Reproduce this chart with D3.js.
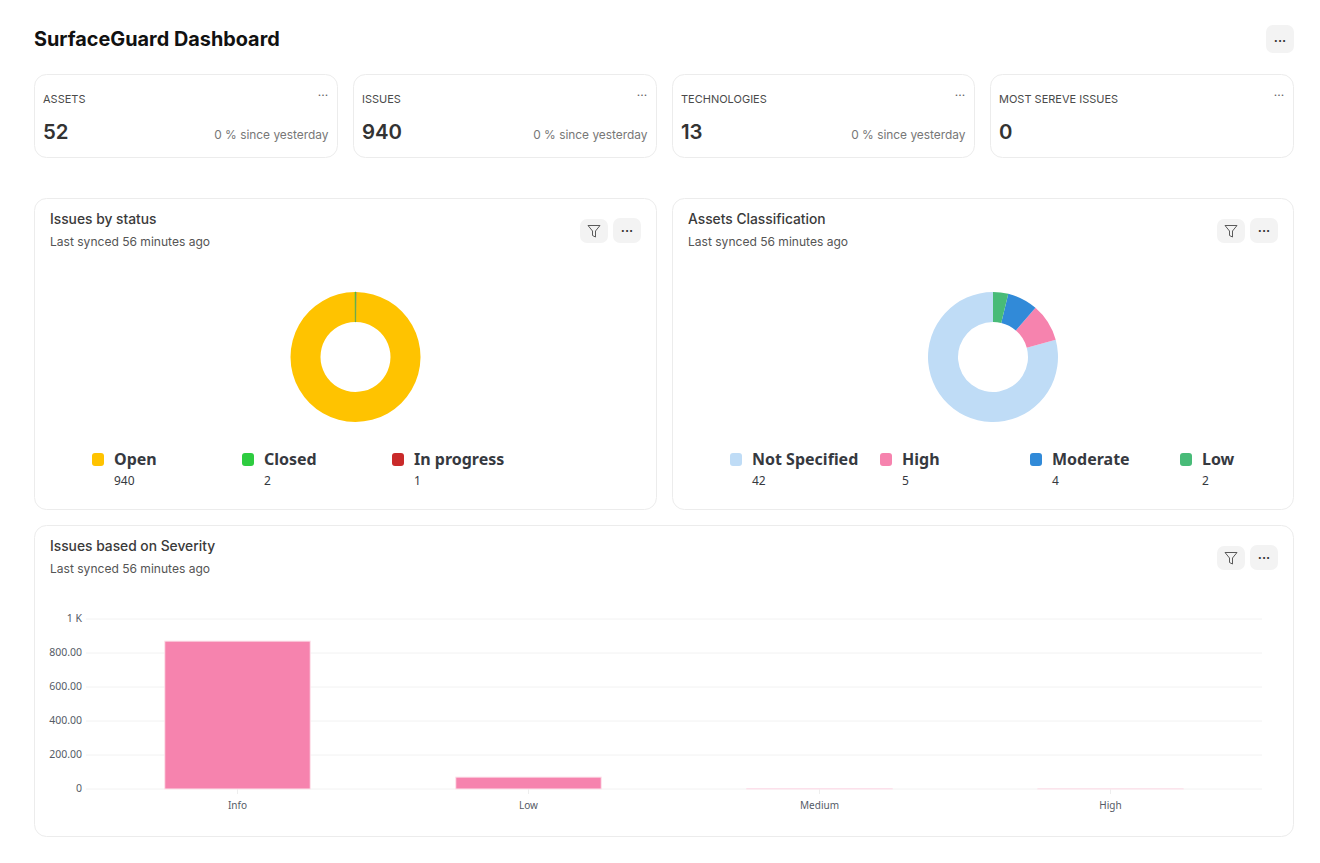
<!DOCTYPE html>
<html><head><meta charset="utf-8">
<script src="https://cdn.jsdelivr.net/npm/d3@7"></script>
<style>
html,body{margin:0;padding:0;background:#fff;overflow:hidden}
svg{display:block}
text{font-family:Inter,"Noto Sans",sans-serif}
.leg{font-family:"Noto Sans",sans-serif}
.ax text{font-family:"Noto Sans",sans-serif;font-size:10px;fill:#555b66}
.ay text{font-size:10.5px}
</style></head><body>
<svg id="c" width="1320" height="863"></svg>
<script>
const pageTitle = "SurfaceGuard Dashboard";
const statLabels = ["ASSETS","ISSUES","TECHNOLOGIES","MOST SEREVE ISSUES"];
const statValues = ["52","940","13","0"];
const statNotes = ["0 % since yesterday","0 % since yesterday","0 % since yesterday",""];
const statusLabels = ["Open","Closed","In progress"];
const statusValues = [940,2,1];
const statusColors = ["#ffc300","#2ecc40","#c92a2a"];
const classLabels = ["Not Specified","High","Moderate","Low"];
const classValues = [42,5,4,2];
const classColors = ["#bfdcf6","#f683ae","#318ad8","#48bb78"];
const severityLabels = ["Info","Low","Medium","High"];
const severityValues = [870,70,2,1];
const severityTicks = [0,200,400,600,800,1000];
const synced = "Last synced 56 minutes ago";

const svg = d3.select("#c");
const BORDER="#ececec";
function card(x,y,w,h){svg.append("rect").attr("x",x+.5).attr("y",y+.5).attr("width",w-1).attr("height",h-1).attr("rx",12).attr("fill","#fff").attr("stroke",BORDER);}
function txt(x,y,s,size,weight,fill,anchor,cls){return svg.append("text").attr("x",x).attr("y",y).attr("font-size",size).attr("font-weight",weight).attr("fill",fill).attr("text-anchor",anchor||"start").attr("class",cls||null).text(s);}
function dots(cx,cy,fill,size,weight){txt(cx,cy,"...",size||13,weight||600,fill,"middle");}
function btn(x,y,w,h){svg.append("rect").attr("x",x).attr("y",y).attr("width",w).attr("height",h).attr("rx",7).attr("fill","#f3f3f3");}
function filterBtn(x,y){btn(x,y,28,24);
  svg.append("path").attr("transform",`translate(${x+7.5},${y+6})`).attr("d","M0.5 0.5H12.5L8 6V12L5 10.5V6Z").attr("fill","none").attr("stroke","#5a5a5a").attr("stroke-width",1).attr("stroke-linejoin","round");}
function moreBtn(x,y){btn(x,y,28,25);dots(x+14,y+14,"#333");}

txt(34,46,pageTitle,19.85,700,"#111");
btn(1266,25,28,28);dots(1280,42,"#333");

const statX=[34,353,672,990], statW=[304,304,303,304];
statLabels.forEach((l,i)=>{
  card(statX[i],74,statW[i],84);
  txt(statX[i]+9,103,l,11,400,"#4a4a4a");
  txt(statX[i]+9,139,statValues[i],20.4,600,"#333");
  txt(statX[i]+statW[i]-9.5,139,statNotes[i],11.9,400,"#777","end");
  dots(statX[i]+statW[i]-15,95.5,"#666",12,400);
});

function header(x,y,w,title){
  card(x,y,w,312);
  txt(x+16,y+26,title,13.8,500,"#3a3a3a");
  txt(x+16,y+48,synced,12.05,400,"#555");
  filterBtn(x+w-77,y+21);moreBtn(x+w-44,y+20);
}
header(34,198,623,"Issues by status");
header(672,198,622,"Assets Classification");
header(34,525,1260,"Issues based on Severity");

function donut(cx,cy,labels,values,colors,legX,order,start,sliver){
  const pie=d3.pie().sort(null).startAngle(start).endAngle(start+2*Math.PI)(order.map(i=>values[i]));
  pie.forEach((d,i)=>d.color=colors[order[i]]);
  pie.sort((a,b)=>b.value-a.value);
  const arc=d3.arc().innerRadius(35).outerRadius(65);
  svg.append("g").attr("transform",`translate(${cx},${cy})`).selectAll("path").data(pie).join("path")
    .attr("d",arc).attr("fill",d=>d.color)
    .attr("stroke",d=>sliver&&d.value===2?d.color:"none").attr("stroke-width",.5);
  labels.forEach((l,i)=>{
    svg.append("rect").attr("x",legX[i]).attr("y",453).attr("width",12).attr("height",13).attr("rx",3).attr("fill",colors[i]);
    txt(legX[i]+22,465,l,16,700,"#36393f","start","leg");
    txt(legX[i]+22,485,values[i],12,400,"#36393f","start","leg");
  });
}
donut(355.5,357,statusLabels,statusValues,statusColors,[92,242,392],[1,2,0],-0.0075,true);
donut(993,357,classLabels,classValues,classColors,[730,880,1030,1180],[3,2,1,0],0,false);

const x=d3.scaleBand().domain(severityLabels).range([92,1256]).padding(.5).paddingOuter(.25);
const y=d3.scaleLinear().domain([0,1000]).range([789,619]);
const yAxis=d3.axisLeft(y).tickValues(severityTicks).tickSize(0).tickPadding(4)
  .tickFormat(d=>d===1000?"1 K":d===0?"0":d3.format(".2f")(d));
const gy=svg.append("g").attr("class","ax ay").attr("transform","translate(86,-1)").call(yAxis);
gy.select(".domain").remove();
svg.append("g").selectAll("line").data(severityTicks).join("line")
  .attr("x1",86).attr("x2",1262).attr("y1",d=>y(d)).attr("y2",d=>y(d)).attr("stroke","#f2f2f2");
const xAxis=d3.axisBottom(x).tickSize(5).tickPadding(8);
const gx=svg.append("g").attr("class","ax").attr("transform","translate(0,789)").call(xAxis);
gx.select(".domain").remove();
gx.selectAll("line").attr("stroke","#eeeeee");
svg.append("g").selectAll("rect").data(severityValues).join("rect")
  .attr("x",(d,i)=>x(severityLabels[i])).attr("width",x.bandwidth())
  .attr("y",d=>y(d)).attr("height",d=>y(0)-y(d))
  .attr("fill","#f683ae").attr("stroke","#fde3ec").attr("stroke-width",1);
</script></body></html>
